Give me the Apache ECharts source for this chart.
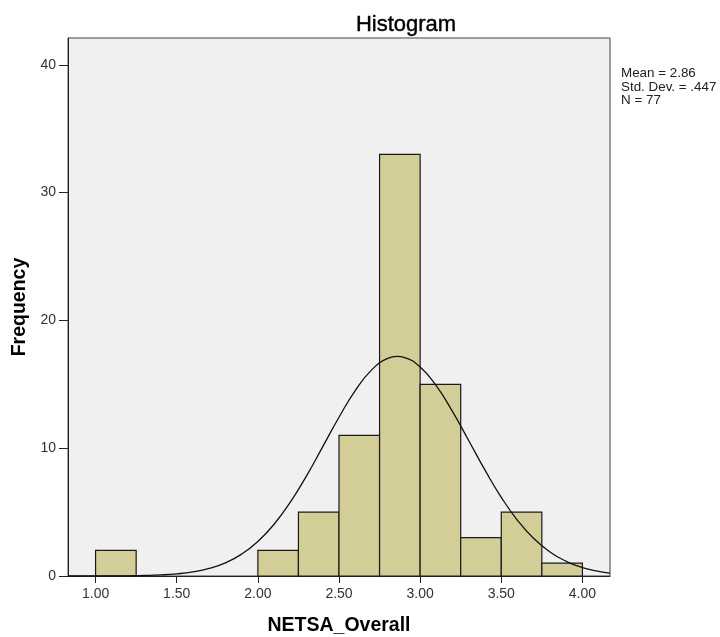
<!DOCTYPE html>
<html><head><meta charset="utf-8">
<script src="https://cdn.jsdelivr.net/npm/echarts@6/dist/echarts.min.js"></script>
<style>html,body{margin:0;padding:0;background:#fff}#c{width:720px;height:637px}</style>
</head><body><div id="c"></div>
<script>
// Histogram bins (NETSA_Overall, bin width 0.25)
var binStarts = [1.00, 1.25, 1.50, 1.75, 2.00, 2.25, 2.50, 2.75, 3.00, 3.25, 3.50, 3.75];
var binWidth = 0.25;
var frequencies = [2, 0, 0, 0, 2, 5, 11, 33, 15, 3, 5, 1];
// Normal curve
var curveX = [0.83, 1.00, 1.10, 1.20, 1.30, 1.40, 1.50, 1.60, 1.70, 1.80, 1.90, 2.00, 2.10, 2.20, 2.30, 2.40, 2.50, 2.60, 2.70, 2.80, 2.86, 2.90, 3.00, 3.10, 3.20, 3.30, 3.40, 3.50, 3.60, 3.70, 3.80, 3.90, 4.00, 4.10, 4.17];
var curveY = [0.0005, 0.003, 0.007, 0.017, 0.039, 0.083, 0.168, 0.323, 0.593, 1.03, 1.71, 2.70, 4.05, 5.78, 7.84, 10.12, 12.42, 14.51, 16.11, 17.03, 17.18, 17.11, 16.36, 14.87, 12.86, 10.58, 8.28, 6.16, 4.36, 2.94, 1.88, 1.15, 0.66, 0.37, 0.23];
var xTicks = [1.00, 1.50, 2.00, 2.50, 3.00, 3.50, 4.00];
var yTicks = [0, 10, 20, 30, 40];
var statsLines = ['Mean = 2.86', 'Std. Dev. = .447', 'N = 77'];

var chart = echarts.init(document.getElementById('c'));
var barData = binStarts.map(function (s, i) { return [s, s + binWidth, frequencies[i]]; }).filter(function (d) { return d[2] > 0; });
var curveData = curveX.map(function (x, i) { return [x, curveY[i]]; });
var font = 'Liberation Sans, Arial, sans-serif';
chart.setOption({
  animation: false,
  backgroundColor: '#ffffff',
  title: {
    text: 'Histogram', left: 401, top: 9, textAlign: 'center',
    textStyle: { fontFamily: font, fontSize: 22, fontWeight: 'normal', color: '#000', textBorderColor: '#000', textBorderWidth: 0.4 }
  },
  graphic: [{
    type: 'text', left: 621, top: 67,
    style: { text: statsLines.join('\n'), fontFamily: font, fontSize: 13.4, lineHeight: 13.5, fill: '#222' }
  }],
  grid: {
    left: 68, right: 110, top: 38, bottom: 61,
    outerBoundsMode: 'none', containLabel: false,
    show: true, backgroundColor: '#f0f0f0', borderColor: '#444', borderWidth: 1
  },
  xAxis: {
    type: 'value', min: 0.83, max: 4.17,
    name: 'NETSA_Overall', nameLocation: 'middle', nameGap: 40,
    nameTextStyle: { fontFamily: font, fontSize: 19.5, fontWeight: 'bold', color: '#000' },
    axisLine: { show: true, onZero: false, lineStyle: { color: '#222', width: 1 } },
    axisTick: { show: true, length: 7, customValues: xTicks, lineStyle: { color: '#222' } },
    axisLabel: { customValues: xTicks, fontFamily: font, fontSize: 14, color: '#333', margin: 11,
      formatter: function (v) { return v.toFixed(2); } },
    splitLine: { show: false }
  },
  yAxis: {
    type: 'value', min: 0, max: 42.1,
    name: 'Frequency', nameLocation: 'middle', nameGap: 38, nameRotate: 90,
    nameTextStyle: { fontFamily: font, fontSize: 19.5, fontWeight: 'bold', color: '#000' },
    axisLine: { show: true, lineStyle: { color: '#222', width: 1 } },
    axisTick: { show: true, length: 9, customValues: yTicks, lineStyle: { color: '#222' } },
    axisLabel: { customValues: yTicks, fontFamily: font, fontSize: 14, color: '#333', margin: 12 },
    splitLine: { show: false }
  },
  series: [{
    type: 'custom',
    data: barData,
    encode: { x: [0, 1], y: 2 },
    renderItem: function (params, api) {
      var p0 = api.coord([api.value(0), 0]);
      var p1 = api.coord([api.value(1), api.value(2)]);
      return {
        type: 'rect',
        shape: { x: p0[0], y: p1[1], width: p1[0] - p0[0], height: p0[1] - p1[1] },
        style: { fill: '#d3ce97', stroke: '#1a1a1a', lineWidth: 1.2 }
      };
    },
    z: 2
  }, {
    type: 'line', data: curveData, smooth: true, showSymbol: false,
    lineStyle: { color: '#111', width: 1.3 }, z: 3, clip: true
  }]
});
</script></body></html>
